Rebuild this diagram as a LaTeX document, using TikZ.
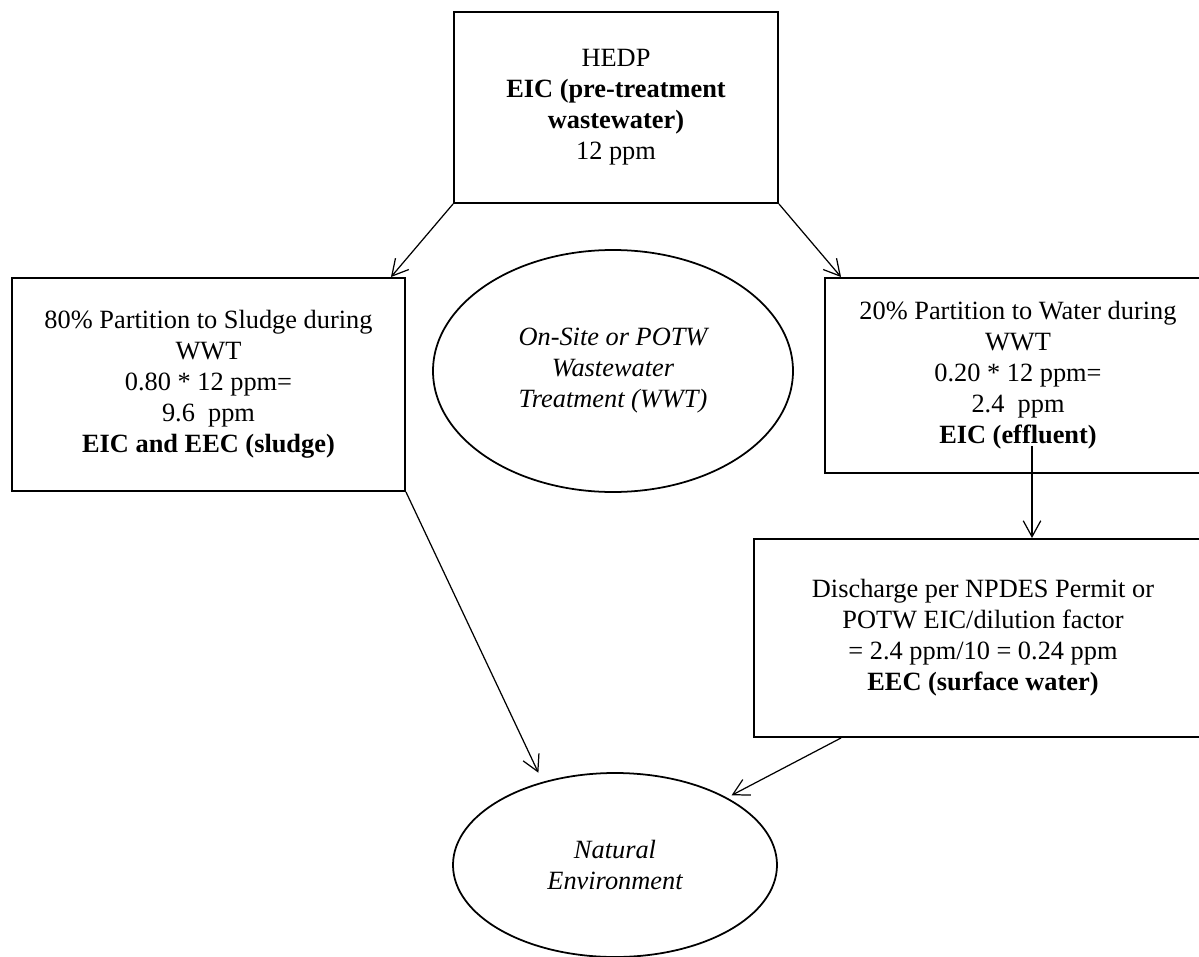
\documentclass[tikz,border=0pt]{standalone}
\usepackage{fontspec}
\setmainfont{Liberation Serif}
\usetikzlibrary{shapes.geometric}
\usetikzlibrary{arrows.meta}

\begin{document}
\begin{tikzpicture}[
    box/.style={draw, line width=1.1pt, align=center, inner sep=0pt,
      font=\fontsize{15}{17.6}\selectfont},
    pool/.style={draw, ellipse, line width=1pt, align=center, inner sep=0pt,
      font=\fontsize{15}{17.6}\selectfont\itshape},
    flow/.style={line width=.7pt, -{Straight Barb[length=3.2mm,width=3.5mm]}}
  ]
          \path [use as bounding box, clip] (0,0) rectangle (23.98,-19.14);
          % source and the two partitions
          \node [box, minimum width=6.48cm, minimum height=3.82cm] (hedp) at (12.32,-2.15)
            {HEDP\\ \textbf{EIC (pre-treatment}\\ \textbf{wastewater)}\\ 12 ppm};
          \node [box, minimum width=7.86cm, minimum height=4.26cm] (sludge) at (4.17,-7.69)
            {80\% Partition to Sludge during\\ WWT\\ 0.80 * 12 ppm=\\ 9.6\ \ ppm\\
             \textbf{EIC and EEC (sludge)}};
          \node [box, minimum width=7.72cm, minimum height=3.9cm] (water) at (20.36,-7.51)
            {20\% Partition to Water during\\ WWT\\ 0.20 * 12 ppm=\\ 2.4\ \ ppm\\
             \textbf{EIC (effluent)}};
          \node [pool, minimum width=7.2cm, minimum height=4.84cm] (wwt) at (12.26,-7.42)
            {On-Site or POTW\\ Wastewater\\ Treatment (WWT)};
          % discharge and environment
          \node [box, minimum width=9.16cm, minimum height=3.96cm] (permit) at (19.66,-12.76)
            {Discharge per NPDES Permit or\\ POTW EIC/dilution factor\\
             = 2.4 ppm/10 = 0.24 ppm\\ \textbf{EEC (surface water)}};
          \node [pool, minimum width=6.48cm, minimum height=3.68cm] (natenv) at (12.3,-17.3)
            {Natural\\ Environment};
          \draw [flow] (hedp.south west) -- ([xshift=-.3cm]sludge.north east);
          \draw [flow] (hedp.south east) -- ([xshift=.34cm]water.north west);
          \draw [flow] ([xshift=.28cm,yshift=.56cm]water.south) -- ([xshift=.98cm]permit.north);
          \draw [flow, shorten >=.2cm] (sludge.south east) -- (natenv.131);
          \draw [flow, shorten >=.1cm] ([xshift=1.76cm]permit.south west) -- (natenv.31);
        \end{tikzpicture}
\end{document}
